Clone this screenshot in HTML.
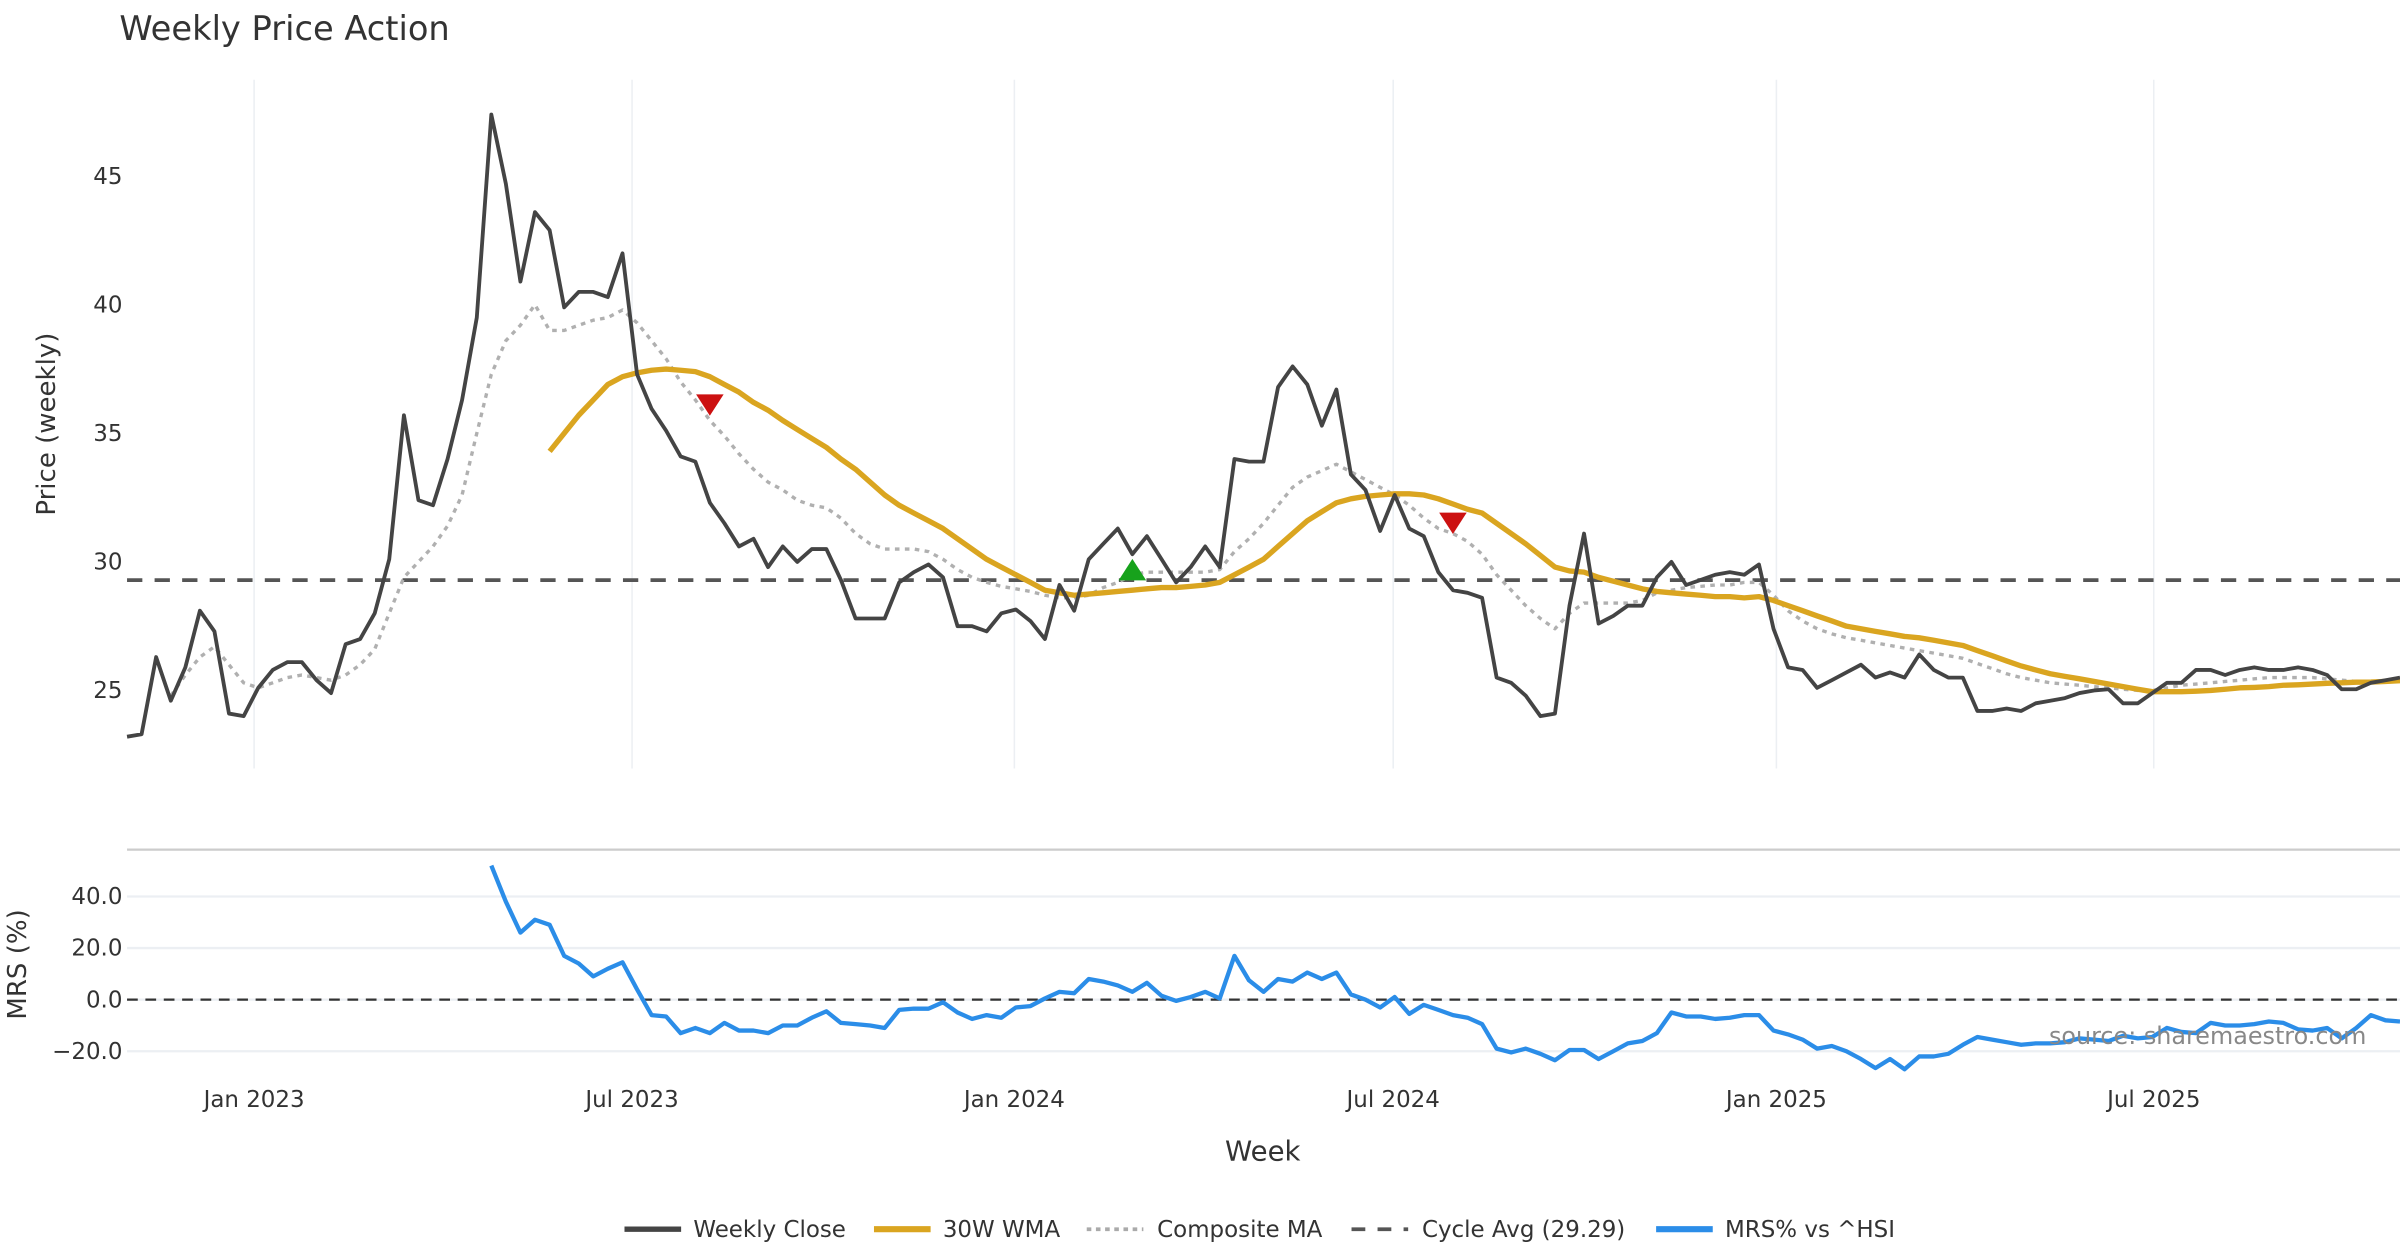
<!DOCTYPE html>
<html><head><meta charset="utf-8"><style>
html,body{margin:0;padding:0;background:#fff;}
svg{display:block;font-family:"DejaVu Sans","Liberation Sans",sans-serif;}
</style></head><body>
<svg id="chart" width="2400" height="1260" viewBox="0 0 1568 823" xmlns="http://www.w3.org/2000/svg">
<text x="78" y="26" font-size="22" fill="#333">Weekly Price Action</text>
<g id="grid"></g>
<g id="series"></g>
<text transform="translate(36,277) rotate(-90)" text-anchor="middle" font-size="17" fill="#333">Price (weekly)</text>
<text transform="translate(17,630) rotate(-90)" text-anchor="middle" font-size="17" fill="#333">MRS (%)</text>
<text x="825" y="758" text-anchor="middle" font-size="18" fill="#333">Week</text>
<text x="1546" y="682" text-anchor="end" font-size="15.6" fill="#888">source: sharemaestro.com</text>
<g font-size="15" fill="#333">
 <g><line x1="408" y1="803" x2="445" y2="803" stroke="#444" stroke-width="3.5"/><text x="453" y="808">Weekly Close</text></g>
 <g><line x1="571" y1="803" x2="608" y2="803" stroke="#DAA520" stroke-width="4"/><text x="616" y="808">30W WMA</text></g>
 <g><line x1="710" y1="803" x2="747" y2="803" stroke="#aaa" stroke-width="2.5" stroke-dasharray="3,3"/><text x="756" y="808">Composite MA</text></g>
 <g><line x1="883" y1="803" x2="920" y2="803" stroke="#555" stroke-width="2.5" stroke-dasharray="9,8"/><text x="929" y="808">Cycle Avg (29.29)</text></g>
 <g><line x1="1082" y1="803" x2="1119" y2="803" stroke="#2b8de8" stroke-width="4"/><text x="1127" y="808">MRS% vs ^HSI</text></g>
</g>
</svg>
<script>
const closeVals=[23.2,23.3,26.3,24.6,25.9,28.1,27.3,24.1,24.0,25.1,25.8,26.1,26.1,25.4,24.9,26.8,27.0,28.0,30.1,35.7,32.4,32.2,34.0,36.3,39.5,47.4,44.7,40.9,43.6,42.9,39.9,40.5,40.5,40.3,42.0,37.3,35.95,35.1,34.1,33.9,32.3,31.5,30.6,30.9,29.8,30.6,30.0,30.5,30.5,29.3,27.8,27.8,27.8,29.2,29.6,29.9,29.4,27.5,27.5,27.3,28.0,28.15,27.7,27.0,29.1,28.1,30.1,30.7,31.3,30.3,31.0,30.1,29.2,29.8,30.6,29.8,34.0,33.9,33.9,36.8,37.6,36.9,35.3,36.7,33.4,32.8,31.2,32.6,31.3,31.0,29.6,28.9,28.8,28.6,25.5,25.3,24.8,24.0,24.1,28.3,31.1,27.6,27.9,28.3,28.3,29.4,30.0,29.1,29.3,29.5,29.6,29.5,29.9,27.4,25.9,25.8,25.1,25.4,25.7,26.0,25.5,25.7,25.5,26.4,25.8,25.5,25.5,24.2,24.2,24.3,24.2,24.5,24.6,24.7,24.9,25.0,25.05,24.5,24.5,24.9,25.3,25.3,25.8,25.8,25.6,25.8,25.9,25.8,25.8,25.9,25.8,25.6,25.05,25.05,25.3,25.4,25.5];
const wmaStart=29;
const wmaVals=[34.3,35.0,35.7,36.3,36.9,37.2,37.35,37.45,37.5,37.45,37.4,37.2,36.9,36.6,36.2,35.9,35.5,35.15,34.8,34.45,34.0,33.6,33.1,32.6,32.2,31.9,31.6,31.3,30.9,30.5,30.1,29.8,29.5,29.2,28.9,28.8,28.7,28.75,28.8,28.85,28.9,28.95,29.0,29.0,29.05,29.1,29.2,29.5,29.8,30.1,30.6,31.1,31.6,31.95,32.3,32.45,32.55,32.6,32.65,32.65,32.6,32.45,32.25,32.05,31.9,31.5,31.1,30.7,30.25,29.8,29.65,29.6,29.4,29.25,29.1,28.95,28.85,28.8,28.75,28.7,28.65,28.65,28.6,28.65,28.5,28.3,28.1,27.9,27.7,27.5,27.4,27.3,27.2,27.1,27.05,26.95,26.85,26.75,26.55,26.35,26.15,25.95,25.8,25.65,25.55,25.45,25.35,25.25,25.15,25.05,24.95,24.95,24.95,24.97,25.0,25.05,25.1,25.12,25.15,25.2,25.22,25.25,25.28,25.3,25.32,25.33,25.35,25.38];
const compStart=3;
const compVals=[24.8,25.6,26.3,26.7,26.0,25.3,25.1,25.3,25.5,25.6,25.5,25.4,25.6,26.0,26.6,28.0,29.4,30.0,30.6,31.4,32.6,35.0,37.3,38.6,39.2,40.0,39.0,39.0,39.2,39.4,39.5,39.8,39.3,38.6,37.9,37.0,36.3,35.5,34.9,34.2,33.6,33.1,32.8,32.4,32.2,32.1,31.7,31.1,30.7,30.5,30.5,30.5,30.4,30.1,29.7,29.4,29.2,29.05,28.95,28.85,28.7,28.6,28.6,28.7,29.0,29.2,29.5,29.6,29.6,29.6,29.6,29.6,29.7,30.4,30.9,31.5,32.2,32.9,33.3,33.55,33.8,33.5,33.2,32.9,32.6,32.2,31.7,31.3,31.1,30.8,30.3,29.5,28.9,28.3,27.8,27.4,28.0,28.4,28.4,28.4,28.4,28.5,28.8,28.9,29.0,29.05,29.1,29.1,29.2,29.2,28.7,28.1,27.7,27.4,27.2,27.05,26.95,26.85,26.75,26.65,26.55,26.45,26.35,26.25,26.05,25.85,25.65,25.5,25.4,25.3,25.25,25.2,25.15,25.1,25.05,25.0,25.0,25.1,25.2,25.25,25.3,25.35,25.4,25.45,25.5,25.5,25.5,25.5,25.45,25.4,25.35,25.35,25.35,25.4];
const mrsStart=25;
const mrsVals=[52,38,26,31,29,17,14,9,12,14.5,4,-6,-6.5,-13,-11,-13,-9,-12,-12,-13,-10,-10,-7,-4.5,-9,-9.5,-10,-11,-4,-3.5,-3.5,-1,-5,-7.5,-6,-7,-3,-2.5,0.5,3,2.5,8,7,5.5,3,6.5,1.5,-0.5,1,3,0.5,17,7.5,3,8,7,10.5,8,10.5,2,0,-3,1,-5.5,-2,-4,-6,-7,-9.5,-19,-20.5,-19,-21,-23.5,-19.5,-19.5,-23,-20,-17,-16,-13,-5,-6.5,-6.5,-7.5,-7,-6,-6,-12,-13.5,-15.5,-19,-18,-20,-23,-26.5,-23,-27,-22,-22,-21,-17.5,-14.5,-15.5,-16.5,-17.5,-17,-17,-16.5,-15,-15.5,-16,-14,-15,-14.5,-11,-12.5,-13,-9,-10,-10,-9.5,-8.5,-9,-11.5,-12,-11,-15,-11,-6,-8,-8.5];
const cycleAvg=29.29;
const sellSignals=[[40,36.1],[91,31.5]];
const buySignals=[[69,29.7]];
const priceTicks=[25,30,35,40,45];
const mrsTicks=[40,20,0,-20];
const mrsTickLabels=["40.0","20.0","0.0","\u221220.0"];
const dateTickIdx=[8.72,34.66,60.9,86.9,113.2,139.1];
const dateTickLabels=["Jan 2023","Jul 2023","Jan 2024","Jul 2024","Jan 2025","Jul 2025"];

const NS="http://www.w3.org/2000/svg";
const X0=83,X1=1568,N=closeVals.length;
const x=i=>X0+i*(X1-X0)/(N-1);
const yP=v=>451-(v-25)*16.8;
const yM=v=>653-v*1.685;
const grid=document.getElementById('grid'),ser=document.getElementById('series');
function mk(tag,attrs,parent){const e=document.createElementNS(NS,tag);for(const k in attrs)e.setAttribute(k,attrs[k]);parent.appendChild(e);return e;}

dateTickIdx.forEach((t,k)=>{
  const gx=x(t);
  const l=mk('line',{x1:gx,x2:gx,y1:52,y2:502,stroke:'#eceff3','stroke-width':1},grid);
  
  
  const tx=mk('text',{x:gx,y:723,'text-anchor':'middle','font-size':15,fill:'#333'},grid);
  tx.textContent=dateTickLabels[k];
  
  
});
priceTicks.forEach(v=>{
  const tx=mk('text',{x:80,y:yP(v)+5,'text-anchor':'end','font-size':15,fill:'#333'},grid);
  tx.textContent=v;
  
  
});
const sep=mk('line',{x1:83,x2:1568,y1:555,y2:555,stroke:'#ccc','stroke-width':1.5},grid);


mrsTicks.forEach((v,k)=>{
  const gl=mk('line',{x1:83,x2:1568,y1:yM(v),y2:yM(v),stroke:'#eceff3','stroke-width':1.5},grid);
  
  
  const tx=mk('text',{x:80,y:yM(v)+5,'text-anchor':'end','font-size':15,fill:'#333'},grid);
  tx.textContent=mrsTickLabels[k];
  
  
});

function path(vals,start,yf,attrs,name){
  const d=vals.map((v,i)=>(i?'L':'M')+x(start+i).toFixed(1)+','+yf(v).toFixed(1)).join('');
  const p=mk('path',Object.assign({d:d,fill:'none','stroke-linejoin':'round'},attrs),ser);
  
  
}
const cyc=mk('line',{x1:83,x2:1568,y1:yP(cycleAvg),y2:yP(cycleAvg),stroke:'#555','stroke-width':2.5,'stroke-dasharray':'10,8'},ser);


path(compVals,compStart,yP,{stroke:'#b0b0b0','stroke-width':2.2,'stroke-dasharray':'3,3.5'},'composite-ma-line');
path(wmaVals,wmaStart,yP,{stroke:'#DAA520','stroke-width':3.5},'wma-30w-line');
path(closeVals,0,yP,{stroke:'#444','stroke-width':2.5},'weekly-close-line');
sellSignals.forEach(s=>{
  const cx=x(s[0]),cy=yP(s[1]);
  const t=mk('polygon',{points:`${cx-9},${cy-7} ${cx+9},${cy-7} ${cx},${cy+7}`,fill:'#cc1111'},ser);
  
  
});
buySignals.forEach(s=>{
  const cx=x(s[0]),cy=yP(s[1]);
  const t=mk('polygon',{points:`${cx-9},${cy+7} ${cx+9},${cy+7} ${cx},${cy-7}`,fill:'#17a21c'},ser);
  
  
});
const z=mk('line',{x1:83,x2:1568,y1:yM(0),y2:yM(0),stroke:'#333','stroke-width':1.5,'stroke-dasharray':'7,5'},ser);


path(mrsVals,mrsStart,yM,{stroke:'#2b8de8','stroke-width':2.8},'mrs-line');
</script>
</body></html>
